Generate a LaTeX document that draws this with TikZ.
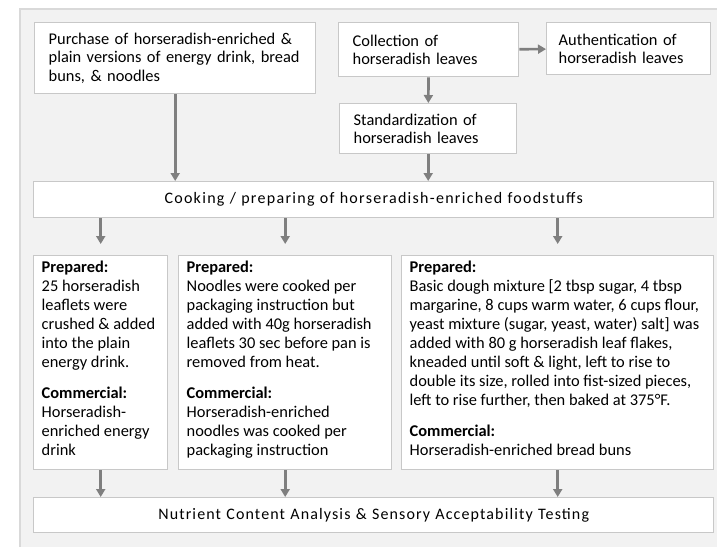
\documentclass[tikz,border=0pt]{standalone}
\usepackage{fontspec}
\setmainfont{Carlito}
\usepackage{tikz}
\usetikzlibrary{arrows.meta,calc,positioning}
\definecolor{fond}{RGB}{242,242,242}
\definecolor{cadre}{RGB}{217,217,217}
\definecolor{bord}{RGB}{200,200,200}
\definecolor{fleche}{RGB}{127,127,127}
\tikzset{
  boite/.style={draw=bord,fill=white,line width=1.4pt,anchor=north west,
    align=left,inner xsep=14pt,inner ysep=0pt,font=\fontsize{16.4}{18.4}\selectfont},
  grande/.style={boite,align=center,font=\fontsize{16}{19}\selectfont\addfontfeatures{LetterSpace=8}},
  bas/.style={boite,inner xsep=8pt,font=\fontsize{16.4}{19}\selectfont},
  fl/.style={-{Triangle[length=8pt,width=9pt]},draw=fleche,line width=2.6pt}
}
\newcommand{\etape}[3]{\parbox[c][#2pt][t]{#1pt}{\raggedright\vspace{5pt}#3}}
\begin{document}
\begin{tikzpicture}[x=1pt,y=-1pt]
  \useasboundingbox (0,0) rectangle (717,546);
  % fond
  \fill[fond] (20,9) rectangle (730,560);
  \draw[cadre,line width=2pt] (20,560) -- (20,9) -- (730,9);
  % etapes du haut
  \node[boite,text width=253pt,minimum height=71pt] (achat) at (34,22)
    {Purchase of horseradish-enriched \&\\plain versions of energy drink, bread\\buns, \& noodles};
  \node[boite,text width=152pt,minimum height=54pt] (collecte) at (338,22)
    {Collection of\\horseradish leaves};
  \node[boite,inner xsep=12pt,text width=140pt,minimum height=52pt] (authent) at (546,22)
    {Authentication of\\horseradish leaves};
  \node[boite,text width=149pt,minimum height=50pt] (standard) at (339,103)
    {Standardization of\\horseradish leaves};
  \node[grande,text width=652pt,minimum height=36pt] (cuisson) at (33,181)
    {Cooking / preparing of horseradish-enriched foodstuffs};
  % preparations
  \node[bas] (boisson) at (33,255)
    {\etape{118}{214}{\textbf{Prepared:}\\25 horseradish\\leaflets were\\crushed \& added\\into the plain\\energy drink.\par\vspace{12pt}
     \textbf{Commercial:}\\Horseradish-\\enriched energy\\drink}};
  \node[bas] (nouilles) at (178,255)
    {\etape{197}{214}{\textbf{Prepared:}\\Noodles were cooked per\\packaging instruction but\\added with 40g horseradish\\leaflets 30 sec before pan is\\removed from heat.\par\vspace{12pt}
     \textbf{Commercial:}\\Horseradish-enriched\\noodles was cooked per\\packaging instruction}};
  \node[bas] (pains) at (401,255)
    {\etape{296}{214}{\textbf{Prepared:}\\Basic dough mixture [2 tbsp sugar, 4 tbsp\\margarine, 8 cups warm water, 6 cups flour,\\yeast mixture (sugar, yeast, water) salt] was\\added with 80 g horseradish leaf flakes,\\kneaded until soft \& light, left to rise to\\double its size, rolled into fist-sized pieces,\\left to rise further, then baked at 375°F.\par\vspace{12pt}
     \textbf{Commercial:}\\Horseradish-enriched bread buns}};
  \node[grande,text width=652pt,minimum height=35pt,font=\fontsize{16}{19}\selectfont\addfontfeatures{LetterSpace=7}] (analyse) at (33,497)
    {Nutrient Content Analysis \& Sensory Acceptability Testing};
  % fleches
  \draw[fl] (collecte) -- (authent);
  \draw[fl] (collecte) -- (standard);
  \draw[fl] (standard) -- (standard.south |- cuisson.north);
  \draw[fl] (achat) -- (achat.south |- cuisson.north);
  \foreach \b in {boisson,nouilles,pains}{
    \draw[fl,shorten >=11pt] (cuisson.south -| \b.north) -- (\b.north);
    \draw[fl] (\b.south) -- (\b.south |- analyse.north);
  }
\end{tikzpicture}
\end{document}
